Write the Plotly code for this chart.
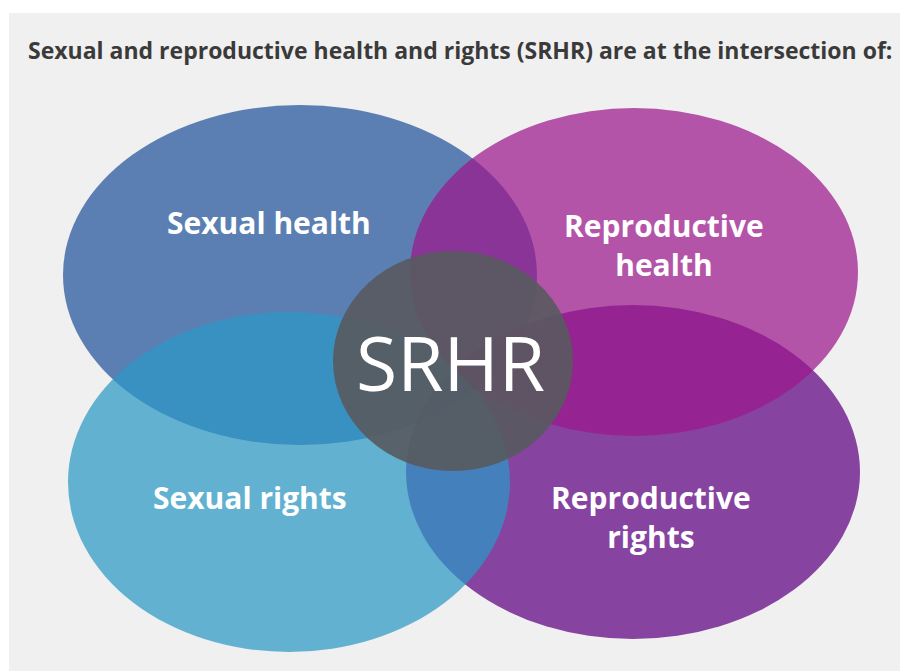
import plotly.graph_objects as go

# ---- data ----
title_text = "Sexual and reproductive health and rights (SRHR) are at the intersection of:"
circle_names = ["Sexual health", "Reproductive health", "Sexual rights", "Reproductive rights"]
circle_labels = ["Sexual health", "Reproductive<br>health", "Sexual rights", "Reproductive<br>rights"]
center_label = "SRHR"

# ---- geometry / style (reference pixel coordinates) ----
W, H = 900, 663  # page adds an 8px body margin
ellipses = {
    # name: (cx, cy, rx, ry, fill)
    "Sexual health": (300, 275, 237, 170, "rgba(33,83,155,0.72)"),
    "Reproductive rights": (633, 472, 227, 167, "rgba(94,0,129,0.72)"),
    "Reproductive health": (634, 272, 224, 164, "rgba(157,23,140,0.72)"),
    "Sexual rights": (289, 482, 221, 170, "rgba(43,152,197,0.72)"),
}
draw_order = ["Sexual health", "Reproductive rights", "Reproductive health", "Sexual rights"]
label_pos = {
    "Sexual health": (269, 222),
    "Reproductive health": (664, 245),
    "Sexual rights": (250, 497),
    "Reproductive rights": (651, 517),
}
center = (453, 361, 120, 110)

fig = go.Figure()
fig.add_trace(go.Scatter(x=[9, 908], y=[13, 671], mode="markers",
                         marker=dict(opacity=0), hoverinfo="skip", showlegend=False))

shapes = []
for name in draw_order:
    cx, cy, rx, ry, col = ellipses[name]
    shapes.append(dict(type="circle", xref="x", yref="y",
                       x0=cx - rx, x1=cx + rx, y0=cy - ry, y1=cy + ry,
                       fillcolor=col, line=dict(width=0), layer="above"))
cx, cy, rx, ry = center
shapes.append(dict(type="circle", xref="x", yref="y",
                   x0=cx - rx, x1=cx + rx, y0=cy - ry, y1=cy + ry,
                   fillcolor="rgba(88,90,94,0.9)", line=dict(width=0), layer="above"))

annotations = [dict(x=460, y=50, xref="x", yref="y", text="<b>" + title_text + "</b>",
                    showarrow=False, font=dict(family="Open Sans", size=23, color="#3a3a3a"))]
for name, lab in zip(circle_names, circle_labels):
    x, y = label_pos[name]
    annotations.append(dict(x=x, y=y, xref="x", yref="y", text="<b>" + lab + "</b>",
                            showarrow=False,
                            font=dict(family="Open Sans", size=30, color="white")))
annotations.append(dict(x=450, y=362, xref="x", yref="y", text=center_label, showarrow=False,
                        font=dict(family="Open Sans", size=75, color="white")))

fig.update_layout(
    width=W, height=H,
    margin=dict(l=1, r=0, t=5, b=0),
    paper_bgcolor="white", plot_bgcolor="#f0f0f0",
    xaxis=dict(range=[9, 908], visible=False, fixedrange=True),
    yaxis=dict(range=[671, 13], visible=False, fixedrange=True),
    shapes=shapes, annotations=annotations, showlegend=False,
)
fig.write_html("out.html")
